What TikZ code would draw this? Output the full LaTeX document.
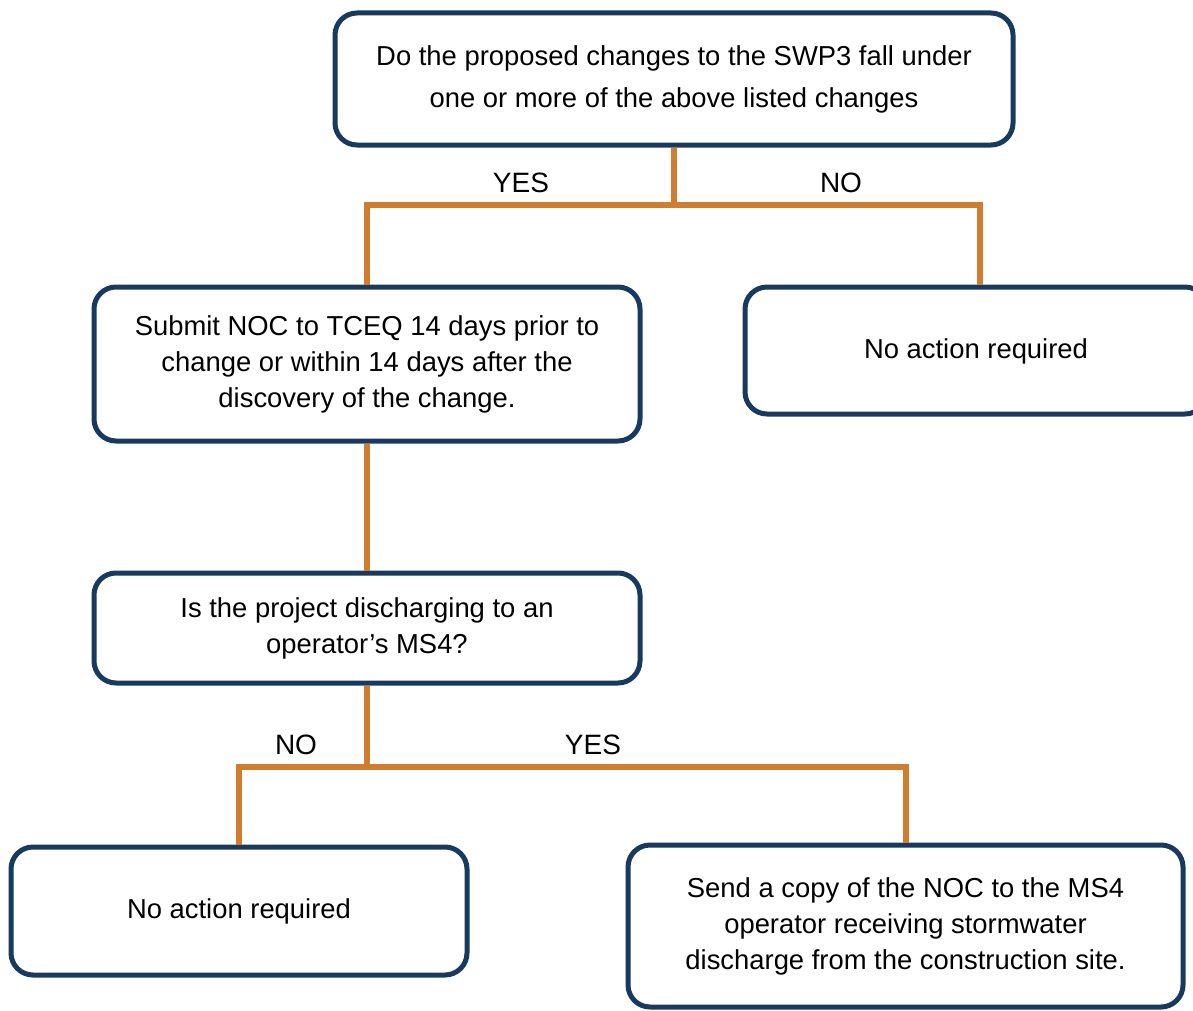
\documentclass[tikz,border=0pt]{standalone}
\usepackage{fontspec}
\setmainfont{Liberation Sans}
\usetikzlibrary{positioning}
\definecolor{boxblue}{HTML}{173A5E}
\definecolor{lineorange}{HTML}{CE7E2E}

\begin{document}
\begin{tikzpicture}[x=0.5pt, y=-0.5pt,
		box/.style={draw=boxblue, line width=2.5pt, rounded corners=11pt, fill=white, align=center, inner sep=0pt, font=\fontsize{13.7}{18}\selectfont},
		wire/.style={draw=lineorange, line width=3pt},
		lbl/.style={font=\fontsize{14}{16}\selectfont}]
				\useasboundingbox (0,0) rectangle (1193,1011);
				% question boxes
				\node[box, minimum width=339pt, minimum height=66pt] (q1) at (674,79) {Do the proposed changes to the SWP3 fall under\\[3pt] one or more of the above listed changes};
				\node[box, minimum width=273pt, minimum height=77pt] (noc) at (367,364) {Submit NOC to TCEQ 14 days prior to\\ change or within 14 days after the\\ discovery of the change.};
				\node[box, minimum width=231pt, minimum height=63.5pt, text height=11pt] (na1) at (976,350.5) {No action required};
				\node[box, minimum width=273pt, minimum height=55pt] (q2) at (367,628) {Is the project discharging to an\\ operator’s MS4?};
				\node[box, minimum width=228pt, minimum height=64pt] (na2) at (239,911) {No action required};
				\node[box, minimum width=277.5pt, minimum height=81pt] (copy) at (905.5,926) {Send a copy of the NOC to the MS4\\ operator receiving stormwater\\ discharge from the construction site.};
				% junctions
				\coordinate (j1) at (674,205);
				\coordinate (j2) at (367,767);
				\draw[wire] (q1.south) -- (j1);
				\draw[wire] (noc.north) |- (j1) -| ([xshift=2pt]na1.north);
				\draw[wire] (noc.south) -- (q2.north);
				\draw[wire] (q2.south) -- (j2);
				\draw[wire] (na2.north) |- (j2) -| (copy.north);
				% labels
				\node[lbl] (yes1) at (521,183) {YES};
				\node[lbl] (no1) at (841,183) {NO};
				\node[lbl] (no2) at (296,745) {NO};
				\node[lbl] (yes2) at (593,745) {YES};
\end{tikzpicture}
\end{document}
